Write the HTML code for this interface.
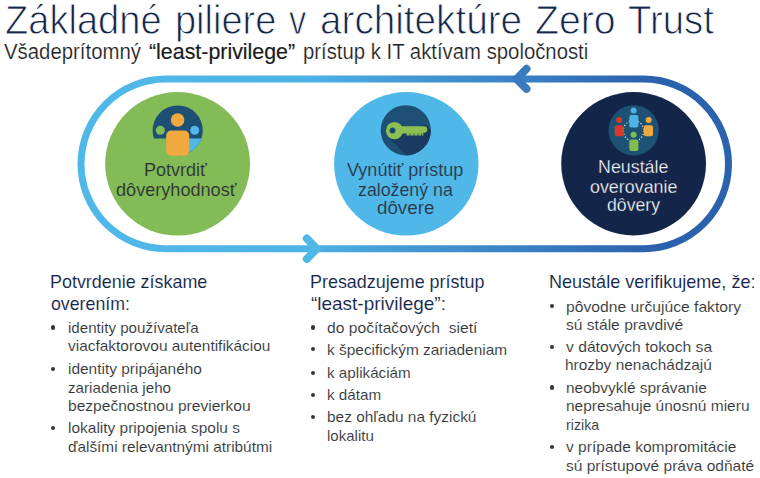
<!DOCTYPE html>
<html><head><meta charset="utf-8">
<style>
html,body{margin:0;padding:0;background:#fff;}
body{width:760px;height:478px;position:relative;overflow:hidden;font-family:"Liberation Sans",sans-serif;}
.t{position:absolute;white-space:pre;transform-origin:0 0;line-height:1;}
.title{-webkit-text-stroke:0.9px #fff;}
.semi{-webkit-text-stroke:0.2px #1c1c1e;}
.sw{-webkit-text-stroke:0.1px #fff;}
.sw2{-webkit-text-stroke:0.2px #fff;}
.sg{-webkit-text-stroke:0.15px #83bb57;}
.sb{-webkit-text-stroke:0.15px #4fb8e8;}
.sn{-webkit-text-stroke:0.3px #14254a;}
.b{position:absolute;width:4.2px;height:4.2px;border-radius:50%;background:#333638;}
svg{position:absolute;left:0;top:0;}
</style></head><body>
<svg width="760" height="478" viewBox="0 0 760 478">
<defs>
<linearGradient id="g" x1="166" x2="644" y1="0" y2="0" gradientUnits="userSpaceOnUse">
<stop offset="0" stop-color="#4fb8e8"/><stop offset="0.3" stop-color="#4db2e5"/><stop offset="0.5" stop-color="#4399d5"/><stop offset="0.75" stop-color="#3a80c4"/><stop offset="1" stop-color="#2b62ad"/>
</linearGradient>
<clipPath id="c1"><circle cx="177.7" cy="130.5" r="25.1"/></clipPath>
<clipPath id="c2"><circle cx="405.8" cy="130.3" r="25.1"/></clipPath>
</defs>
<path d="M165.8 79.1 H643.7 A84.8 84.8 0 0 1 643.7 248.7 H165.8 A84.8 84.8 0 0 1 165.8 79.1 Z" fill="none" stroke="url(#g)" stroke-width="7"/>
<path d="M526.5 68.8 L516.8 79.1 L526.5 88.8" fill="none" stroke="#3a7bbd" stroke-width="8" stroke-linecap="round" stroke-linejoin="round"/>
<path d="M306.8 238.5 L316.8 248.7 L306.8 259" fill="none" stroke="#4fb8e8" stroke-width="8" stroke-linecap="round" stroke-linejoin="round"/>
<ellipse cx="177.6" cy="163.8" rx="72.4" ry="71.8" fill="#83bb57"/>
<ellipse cx="406.3" cy="163.8" rx="72.2" ry="71.8" fill="#4fb8e8"/>
<ellipse cx="633.6" cy="163.7" rx="72.4" ry="71.7" fill="#14254a"/>
<!-- icon 1 -->
<circle cx="177.7" cy="130.5" r="25.1" fill="#1e4f74"/>
<rect x="150" y="138.5" width="28" height="19" fill="#83bb57"/>
<g clip-path="url(#c1)">
<rect x="178" y="138.5" width="28" height="20" fill="#4fb8e8"/>
</g>
<circle cx="160.3" cy="130.3" r="4.5" fill="#83bb57"/>
<circle cx="194.7" cy="130.3" r="4.5" fill="#4fb8e8"/>
<circle cx="177.6" cy="120" r="6.8" fill="#f0a93e"/>
<rect x="166.2" y="130.6" width="23" height="25.1" rx="5" fill="#f0a93e"/>
<!-- icon 2 -->
<circle cx="405.8" cy="130.3" r="25.1" fill="#1e4f74"/>
<g clip-path="url(#c2)">
<path d="M388.2 137 L425.5 124.5 L460 159 L411 160 Z" fill="#1b3b63"/>
</g>
<path d="M402 126.3 H424 A3.2 3.2 0 0 1 424 132.8 L423.3 132.8 V135.6 H406.6 V133.4 H402 Z" fill="#8cc152"/>
<circle cx="394.5" cy="130.6" r="8.6" fill="#8cc152"/>
<circle cx="392.5" cy="130.6" r="3" fill="#1e4f74"/>
<circle cx="392.5" cy="130.6" r="1.7" fill="#1b3b63"/>
<path d="M410 133.4v2.4M414 133.4v2.4M418 133.4v2.4M421.5 133.4v2.4" stroke="#1b3b63" stroke-width="0.9"/>
<!-- icon 3 -->
<circle cx="633.7" cy="130.3" r="25.1" fill="#1e5274"/>
<circle cx="633.6" cy="130.8" r="10.3" fill="none" stroke="#dfe6ec" stroke-width="1.2" stroke-dasharray="1.2 1.9"/>
<circle cx="633.6" cy="110.6" r="3" fill="#4db3e6"/><rect x="629.3" y="115.1" width="9.1" height="12.5" rx="2" fill="#4db3e6"/>
<circle cx="619.1" cy="120.1" r="3" fill="#d63a2a"/><rect x="614.7" y="125.2" width="9.1" height="11" rx="2" fill="#d63a2a"/>
<circle cx="648.6" cy="120.1" r="3" fill="#f0a93e"/><rect x="643.9" y="125.2" width="9.1" height="11" rx="2" fill="#f0a93e"/>
<circle cx="633.6" cy="134.7" r="3" fill="#82bb4e"/><rect x="629.3" y="139.6" width="9.1" height="11.4" rx="2" fill="#82bb4e"/>
</svg>
<div class="t title" style="left:4.55px;top:0.82px;font-size:39.9px;color:#14254a;transform:scaleX(0.9542);">Základné</div>
<div class="t title" style="left:174.50px;top:0.82px;font-size:39.9px;color:#14254a;transform:scaleX(0.9521);">piliere</div>
<div class="t title" style="left:289.40px;top:0.82px;font-size:39.9px;color:#14254a;transform:scaleX(0.8650);">v</div>
<div class="t title" style="left:319.53px;top:0.82px;font-size:39.9px;color:#14254a;transform:scaleX(0.9698);">architektúre</div>
<div class="t title" style="left:534.82px;top:0.82px;font-size:39.9px;color:#14254a;transform:scaleX(0.9820);">Zero</div>
<div class="t title" style="left:627.90px;top:0.82px;font-size:39.9px;color:#14254a;transform:scaleX(0.9608);">Trust</div>
<div class="t sw2" style="left:4.20px;top:40.63px;font-size:21.7px;color:#1c1c1e;transform:scaleX(0.9389);">Všadeprítomný</div>
<div class="t semi" style="left:149.40px;top:40.63px;font-size:21.7px;color:#1c1c1e;transform:scaleX(0.9857);">“least-privilege”</div>
<div class="t sw2" style="left:302.76px;top:40.63px;font-size:21.7px;color:#1c1c1e;transform:scaleX(0.9366);">prístup k IT aktívam spoločnosti</div>
<div class="t sg" style="left:144.28px;top:162.30px;font-size:17.6px;color:#2c3034;transform:scaleX(1.0237);">Potvrdiť</div>
<div class="t sg" style="left:116.40px;top:181.90px;font-size:17.6px;color:#2c3034;transform:scaleX(1.0287);">dôveryhodnosť</div>
<div class="t sb" style="left:347.40px;top:161.50px;font-size:17.6px;color:#2b3442;transform:scaleX(1.0243);">Vynútiť prístup</div>
<div class="t sb" style="left:358.40px;top:181.60px;font-size:17.6px;color:#2b3442;transform:scaleX(1.0094);">založený na</div>
<div class="t sb" style="left:376.70px;top:200.00px;font-size:17.6px;color:#2b3442;transform:scaleX(1.0658);">dôvere</div>
<div class="t sn" style="left:597.61px;top:157.96px;font-size:18.0px;color:#ffffff;transform:scaleX(0.9910);">Neustále</div>
<div class="t sn" style="left:589.70px;top:178.16px;font-size:18.0px;color:#ffffff;transform:scaleX(0.9927);">overovanie</div>
<div class="t sn" style="left:606.60px;top:196.46px;font-size:18.0px;color:#ffffff;transform:scaleX(0.9810);">dôvery</div>
<div class="t sw" style="left:49.92px;top:272.99px;font-size:18.2px;color:#14254a;transform:scaleX(0.9848);">Potvrdenie získame</div>
<div class="t sw" style="left:50.90px;top:294.99px;font-size:18.2px;color:#14254a;transform:scaleX(0.9760);">overením:</div>
<div class="t sw" style="left:309.91px;top:272.99px;font-size:18.2px;color:#14254a;transform:scaleX(0.9858);">Presadzujeme prístup</div>
<div class="t sw" style="left:310.90px;top:294.99px;font-size:18.2px;color:#14254a;transform:scaleX(1.0427);">“least-privilege”:</div>
<div class="t sw" style="left:548.81px;top:272.99px;font-size:18.2px;color:#14254a;transform:scaleX(0.9914);">Neustále verifikujeme, že:</div>
<div class="t sw" style="left:68.00px;top:320.74px;font-size:14.6px;color:#333638;transform:scaleX(1.0368);">identity používateľa</div>
<div class="t sw" style="left:68.00px;top:338.84px;font-size:14.6px;color:#333638;transform:scaleX(1.0573);">viacfaktorovou autentifikáciou</div>
<div class="t sw" style="left:68.00px;top:361.94px;font-size:14.6px;color:#333638;transform:scaleX(1.0581);">identity pripájaného</div>
<div class="t sw" style="left:68.00px;top:380.84px;font-size:14.6px;color:#333638;transform:scaleX(1.0408);">zariadenia jeho</div>
<div class="t sw" style="left:68.00px;top:398.54px;font-size:14.6px;color:#333638;transform:scaleX(1.0668);">bezpečnostnou previerkou</div>
<div class="t sw" style="left:68.00px;top:421.44px;font-size:14.6px;color:#333638;transform:scaleX(1.0602);">lokality pripojenia spolu s</div>
<div class="t sw" style="left:68.00px;top:439.54px;font-size:14.6px;color:#333638;transform:scaleX(1.0530);">ďalšími relevantnými atribútmi</div>
<div class="t sw" style="left:327.30px;top:320.74px;font-size:14.6px;color:#333638;transform:scaleX(1.0714);">do počítačových &nbsp;sietí</div>
<div class="t sw" style="left:327.30px;top:342.64px;font-size:14.6px;color:#333638;transform:scaleX(1.0573);">k špecifickým zariadeniam</div>
<div class="t sw" style="left:327.30px;top:366.04px;font-size:14.6px;color:#333638;transform:scaleX(1.0432);">k aplikáciám</div>
<div class="t sw" style="left:327.30px;top:388.04px;font-size:14.6px;color:#333638;transform:scaleX(1.0434);">k dátam</div>
<div class="t sw" style="left:327.30px;top:410.04px;font-size:14.6px;color:#333638;transform:scaleX(1.0570);">bez ohľadu na fyzickú</div>
<div class="t sw" style="left:327.30px;top:428.84px;font-size:14.6px;color:#333638;transform:scaleX(1.0307);">lokalitu</div>
<div class="t sw" style="left:566.10px;top:299.64px;font-size:14.6px;color:#333638;transform:scaleX(1.0735);">pôvodne určujúce faktory</div>
<div class="t sw" style="left:566.10px;top:317.64px;font-size:14.6px;color:#333638;transform:scaleX(1.0695);">sú stále pravdivé</div>
<div class="t sw" style="left:566.10px;top:340.44px;font-size:14.6px;color:#333638;transform:scaleX(1.0724);">v dátových tokoch sa</div>
<div class="t sw" style="left:565.04px;top:357.84px;font-size:14.6px;color:#333638;transform:scaleX(1.0580);">hrozby nenachádzajú</div>
<div class="t sw" style="left:566.10px;top:380.74px;font-size:14.6px;color:#333638;transform:scaleX(1.0577);">neobvyklé správanie</div>
<div class="t sw" style="left:566.10px;top:399.14px;font-size:14.6px;color:#333638;transform:scaleX(1.0620);">nepresahuje únosnú mieru</div>
<div class="t sw" style="left:566.10px;top:418.04px;font-size:14.6px;color:#333638;transform:scaleX(0.9731);">rizika</div>
<div class="t sw" style="left:566.10px;top:440.34px;font-size:14.6px;color:#333638;transform:scaleX(1.0659);">v prípade kompromitácie</div>
<div class="t sw" style="left:566.10px;top:458.74px;font-size:14.6px;color:#333638;transform:scaleX(1.0637);">sú prístupové práva odňaté</div>
<div class="b" style="left:50.9px;top:325.4px;"></div>
<div class="b" style="left:50.9px;top:366.6px;"></div>
<div class="b" style="left:50.9px;top:426.1px;"></div>
<div class="b" style="left:310.9px;top:325.4px;"></div>
<div class="b" style="left:310.9px;top:347.3px;"></div>
<div class="b" style="left:310.9px;top:370.7px;"></div>
<div class="b" style="left:310.9px;top:392.7px;"></div>
<div class="b" style="left:310.9px;top:414.7px;"></div>
<div class="b" style="left:549.8px;top:304.3px;"></div>
<div class="b" style="left:549.8px;top:345.1px;"></div>
<div class="b" style="left:549.8px;top:385.4px;"></div>
<div class="b" style="left:549.8px;top:445.0px;"></div>
</body></html>
